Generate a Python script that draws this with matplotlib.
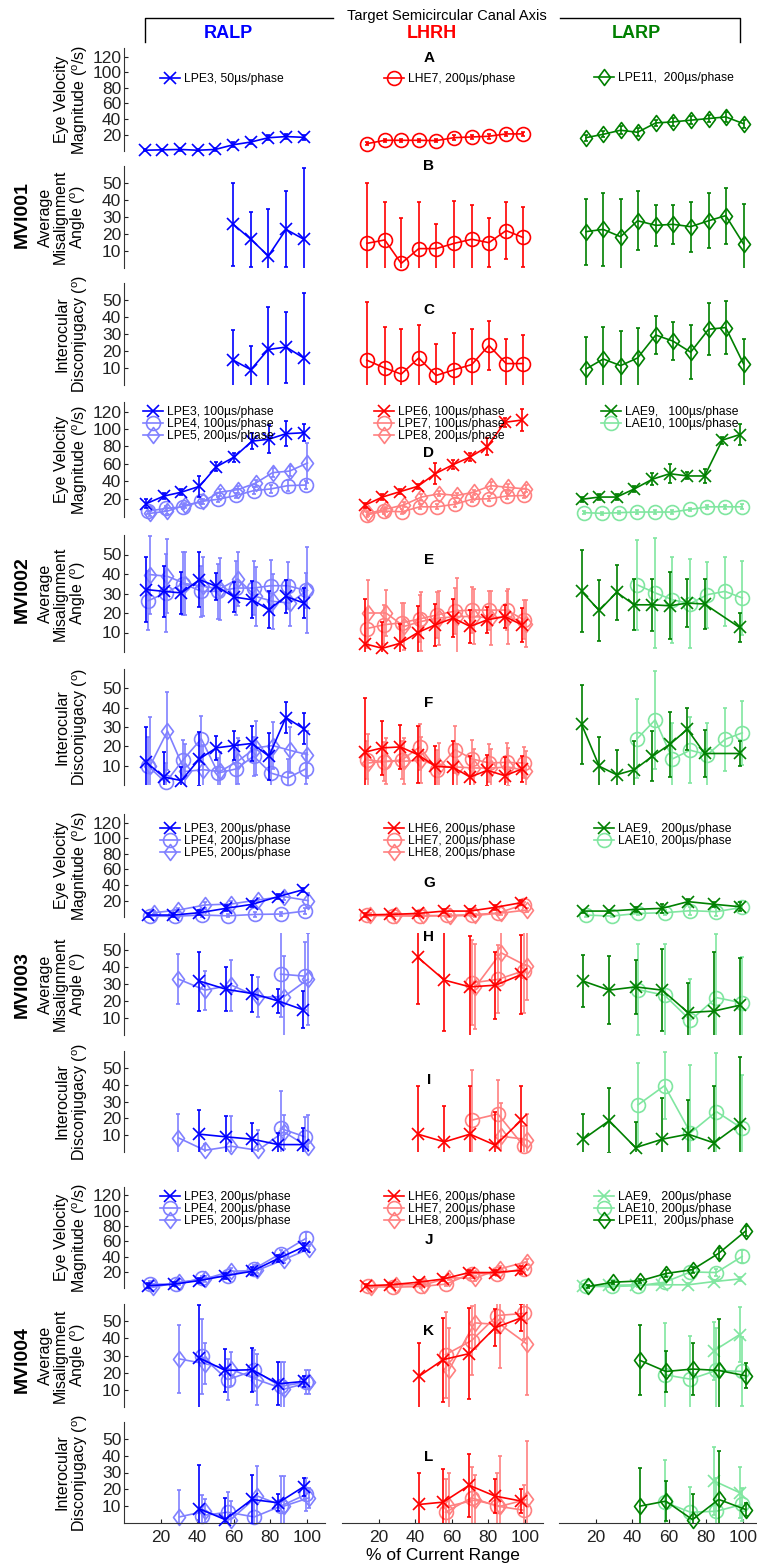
import numpy as np
import matplotlib
matplotlib.use('Agg')
import matplotlib.pyplot as plt
from matplotlib.path import Path
from matplotlib.lines import Line2D

plt.rcParams['font.family'] = ['Liberation Sans', 'DejaVu Sans']
plt.rcParams['mathtext.default'] = 'regular'

N = np.nan

# ---------------- x positions (% of current range) ----------------
x1_ralp = [11.4, 21, 30.4, 40.4, 50, 59.8, 69.4, 79, 88.7, 98.4]
x1_lhrh = [13.6, 23.4, 32.4, 42, 51.5, 61.4, 71, 80.4, 89.8, 99]
x1_larp = [14.7, 24.1, 33.5, 42.8, 52.7, 62.1, 71.7, 81.5, 90.8, 100.5]

x2_ralp_a = [12.3, 21.8, 31.4, 41.3, 50.5, 60.3, 70, 79.3, 88.6, 98.4]
x2_ralp_b = [13.3, 22.8, 32.4, 42.3, 51.5, 61.3, 71, 80.3, 89.6, 99.4]
x2_ralp_c = [14.3, 23.8, 33.4, 43.3, 52.5, 62.3, 72, 81.3, 90.6, 100.4]
x2_lhrh_a = [12.5, 22.1, 31.9, 41.5, 51, 60.9, 70.1, 79.5, 89.1, 98.5]
x2_lhrh_b = [13.5, 23.1, 32.9, 42.5, 52, 61.9, 71.1, 80.5, 90.1, 99.5]
x2_lhrh_c = [14.5, 24.1, 33.9, 43.5, 53, 62.9, 72.1, 81.5, 91.1, 100.5]
x2_larp_a = [12.3, 21.9, 31.4, 41, 50.9, 60.3, 69.9, 79.3, 88.9, 98.3]
x2_larp_b = [13.8, 23.4, 32.9, 42.5, 52.4, 61.8, 71.4, 80.8, 90.4, 99.8]

x3_ralp_a = [13.2, 26.8, 41.3, 55.8, 70.3, 84.4, 97.8]
x3_ralp_b = [14.5, 28.1, 42.6, 57.1, 71.6, 85.7, 99.1]
x3_ralp_c = [16.2, 29.8, 44.3, 58.8, 73.3, 87.4, 100.8]
x3_lhrh_a = [12.5, 26.5, 41.5, 56, 70, 84, 98.2]
x3_lhrh_b = [13.8, 27.8, 42.8, 57.3, 71.3, 85.3, 99.5]
x3_lhrh_c = [15.5, 29.5, 44.5, 59, 73, 87, 101.2]
x3_larp_a = [13.2, 27.3, 41.7, 56.2, 70.3, 84.4, 98.4]
x3_larp_b = [14.5, 28.6, 43, 57.5, 71.6, 85.7, 99.7]

x4_ralp_a = [12.9, 27.3, 41.3, 55.4, 70, 84.4, 98.4]
x4_ralp_b = [14.2, 28.6, 42.6, 56.7, 71.3, 85.7, 99.7]
x4_ralp_c = [15.9, 30.3, 44.3, 58.4, 73, 87.4, 101.4]
x4_lhrh_a = [13, 26.5, 42, 55.4, 69.6, 83.7, 98.2]
x4_lhrh_b = [14.3, 27.8, 43.3, 56.7, 70.9, 85, 99.5]
x4_lhrh_c = [16, 29.5, 45, 58.4, 72.6, 86.7, 101.2]
x4_larp_a = [13.2, 27.3, 41.7, 56.2, 70.3, 84.4, 98.4]
x4_larp_b = [14.5, 28.6, 43, 57.5, 71.6, 85.7, 99.7]
x4_larp_c = [16, 29.5, 44, 58.2, 72.7, 87, 101.6]

# ---------------- MVI001 ----------------
A_LPE3 = [0, 0.5, 1, 0, 1, 7, 10.5, 16, 17.5, 16.5]
A_LPE3_e = [1.5, 1.5, 1.5, 1.5, 2, 3, 3, 3, 3, 3]
A_LHE7 = [8.4, 12.7, 12.7, 12.7, 12.3, 16.1, 17, 17.9, 20.9, 20.9]
A_LHE7_e = [2, 2, 2, 2, 2, 3, 3, 3, 3, 3]
A_LPE11 = [16.1, 20.4, 25.6, 23, 35, 36.3, 38.5, 40.6, 42.7, 34]
A_LPE11_e = [4, 4, 5, 5, 4, 5, 5, 5, 6, 5]

B_LPE3 = [N, N, N, N, N, 25.7, 16.9, 7.1, 22.7, 16.9]
B_LPE3_e = [N, N, N, N, N, 24.5, 16.2, 27.4, 22.4, 42]
B_LHE7 = [14.5, 16.5, 2.7, 11.4, 11.4, 14.5, 16.9, 14.9, 22, 18]
B_LHE7_e = [35.7, 22.1, 26.7, 27.2, 14.5, 24.7, 20, 14.3, 16.6, 17.7]
B_LPE11 = [21.4, 22.7, 18.4, 27.8, 25.1, 25.7, 24.3, 27.8, 30.8, 14.1]
B_LPE11_e = [19.4, 21.6, 22.4, 17.3, 12, 11.4, 14.7, 16.1, 16.5, 23.5]

C_LPE3 = [N, N, N, N, N, 14.6, 9, 20.9, 22.3, 15.9]
C_LPE3_e = [N, N, N, N, N, 17.8, 13.9, 25.1, 20.9, 38.1]
C_LHE7 = [14.6, 10, 6.4, 15.9, 5.6, 9, 12, 23.3, 12.6, 12.6]
C_LHE7_e = [34, 24.2, 26.4, 19.4, 18.3, 21.4, 21.2, 14.2, 14.6, 16.6]
C_LPE11 = [9.4, 15.3, 11.4, 15.9, 29.4, 25.8, 19.3, 32.8, 33.8, 12.4]
C_LPE11_e = [18.8, 18.9, 20.4, 17.9, 11.3, 11.3, 15.8, 15.4, 15.8, 14.4]

# ---------------- MVI002 ----------------
D_LPE3 = [14.4, 23, 27.5, 34.2, 56.6, 67.8, 86, 88.3, 94.6, 95.7]
D_LPE3_e = [5, 3, 3.7, 12, 5, 5.2, 9.4, 16.4, 14.2, 10]
D_LPE4 = [5.8, 8.8, 10.7, 17, 19.3, 23.7, 29.3, 31.2, 35, 35.7]
D_LPE4_e = [3, 3, 3, 3, 3, 3, 4, 5, 6, 5]
D_LPE5 = [3.2, 5.8, 12.5, 17, 27.5, 30.4, 37.9, 49.9, 51.7, 61]
D_LPE5_e = [3, 3, 3, 3, 4, 4, 4, 5, 6, 23.5]
D_LPE6 = [12.5, 21.9, 28.2, 34.2, 48.7, 59.2, 67.8, 79.7, 107.7, 110.3]
D_LPE6_e = [3, 3, 3, 3, 12, 5, 5, 10, 5, 13]
D_LPE7 = [1.3, 5.8, 5, 10.7, 10.7, 13.7, 19.3, 20, 23, 23.7]
D_LPE7_e = [3, 3, 3, 3, 3, 3, 3, 3, 3, 3]
D_LPE8 = [3.2, 8, 13, 21.9, 25.6, 23.7, 27.5, 35, 33, 31.2]
D_LPE8_e = [3, 3, 3, 3, 3, 3, 3, 4, 4, 4]
D_LAE9 = [19.3, 21.9, 21.9, 31.2, 42.4, 48.7, 46.1, 46.1, 87.2, 93.5]
D_LAE9_e = [3, 3, 3, 3, 7, 11, 4, 8, 4, 12]
D_LAE10 = [4, 3.2, 4, 4.7, 4.7, 4.7, 7.7, 10.7, 10.7, 10.7]
D_LAE10_e = [2, 2, 2, 2, 2, 2, 2, 2, 2, 3]

E_LPE3 = [32, 31.1, 30.3, 37.1, 33.7, 28.2, 26.8, 21.7, 28.5, 25.1]
E_LPE3_e = [16.6, 12.9, 10.6, 14.1, 6.9, 7.7, 9.5, 9.4, 8.6, 7.7]
E_LPE4 = [26.3, 30.3, 35.1, 31.1, 31.1, 32.8, 32.8, 34, 34, 31.6]
E_LPE4_e = [15, 20, 16, 13, 14, 14, 14, 13, 12, 9]
E_LPE5 = [39.7, 38.8, 35.1, 33.7, 32.3, 37.5, 28.5, 26, 25.1, 31.6]
E_LPE5_e = [20, 19, 16, 15, 16, 14, 15, 14, 12, 22]
E_LPE6 = [4.2, 1.9, 4.5, 10, 13.9, 17.4, 13.1, 16.5, 18.2, 13.9]
E_LPE6_e = [23, 13.3, 9.8, 13.7, 10.7, 9.9, 8.6, 6.5, 6, 8.6]
E_LPE7 = [12, 14, 15, 17, 19, 21, 21.5, 21.5, 21.5, 16.5]
E_LPE7_e = [10, 10, 10, 12, 12, 12, 12, 10, 10, 10]
E_LPE8 = [20, 20, 13.1, 15.7, 17.4, 18.2, 18.2, 17.4, 18.2, 14.5]
E_LPE8_e = [17, 12, 12, 15, 14, 20, 14, 14, 14, 12]
E_LAE9 = [31.1, 21.3, 30.6, 24.2, 24.2, 23.7, 25.1, 24.6, N, 12.6]
E_LAE9_e = [21, 15.5, 14.2, 13, 13.3, 17.2, 12.4, 12.9, N, 7.4]
E_LAE10 = [N, N, N, 34.5, 30.3, 26.8, 24.8, 29.4, 31.1, 27.7]
E_LAE10_e = [N, N, N, 23, 28, 22, 23, 17, 17.7, 19]

F_LPE3 = [11.7, 4.1, 2.3, 13.5, 19.2, 20.4, 21.5, 14.9, 34.9, 29.1]
F_LPE3_e = [18.3, 12.9, 7, 13.9, 6.1, 7.5, 9, 12.1, 8.1, 7.9]
F_LPE4 = [9.7, 1.3, 13.1, 23.9, 6.2, 8.3, 14.9, 6.2, 3.6, 8.3]
F_LPE4_e = [15, 10, 10, 12, 8, 10, 10, 10, 10, 8]
F_LPE5 = [10, 27.9, 7, 7.9, 7, 12.3, 19.2, 20.4, 18, 15.7]
F_LPE5_e = [25, 20, 14, 13, 10, 12, 14, 12, 12, 12]
F_LPE6 = [17, 19.2, 19.7, 15.7, 9.7, 9.1, 4.1, 7.6, 4.8, 8.3]
F_LPE6_e = [27.8, 13.9, 11.2, 14.8, 10.7, 13.9, 10.8, 8.1, 9.7, 6.6]
F_LPE7 = [13, 12, 13, 19.7, 7.9, 18.3, 13.5, 11.4, 11.7, 11.4]
F_LPE7_e = [10, 10, 10, 12, 10, 12, 10, 10, 10, 8]
F_LPE8 = [11.4, 12.3, 12.3, 12.8, 9.7, 9.3, 8.8, 8.8, 9.3, 7.4]
F_LPE8_e = [15, 12, 12, 12, 12, 12, 10, 10, 10, 10]
F_LAE9 = [31.4, 9.7, 5.3, 7.9, 14.9, 21, 28.8, 16.3, N, 16.3]
F_LAE9_e = [20.3, 15.3, 13, 15.1, 13, 16.8, 10.8, 12, N, 6.4]
F_LAE10 = [N, N, N, 23.9, 33.7, 13.5, 18, 15.7, 23.6, 27]
F_LAE10_e = [N, N, N, 20.5, 25.5, 18.8, 17, 16.6, 16.4, 16.6]

# ---------------- MVI003 ----------------
G_LPE3 = [1.5, 1.5, 4.5, 10.1, 15.3, 25.2, 33.8]
G_LPE3_e = [2, 2, 3, 4, 4, 3, 3]
G_LPE4 = [0, 0, 1.5, 0.5, 2.3, 2.8, 6.6]
G_LPE4_e = [2, 2, 2, 2, 3, 3, 4]
G_LPE5 = [4.5, 7.9, 14.4, 15.7, 20.9, 25.2, 20]
G_LPE5_e = [2, 3, 4, 4, 3, 4, 10]
G_LHE6 = [1.5, 2.3, 3.6, 6.6, 6.6, 11.4, 17.4]
G_LHE6_e = [2, 2, 3, 3, 3, 3, 3]
G_LHE7 = [1, 0.5, 0, 1, 2, 4, 15]
G_LHE7_e = [2, 2, 2, 2, 2, 2, 3]
G_LHE8 = [2, 2, 1, 0.5, 1, 4, 8]
G_LHE8_e = [2, 2, 2, 2, 2, 2, 2]
G_LAE9 = [6.6, 6.6, 8.8, 10.1, 18.7, 15.3, 12.2]
G_LAE9_e = [2, 2, 3, 6, 3, 3, 6]
G_LAE10 = [1.5, 0.2, 3.6, 4.5, 7.1, 5.8, 11.4]
G_LAE10_e = [2, 2, 2, 3, 5, 5, 4]

H_LPE3 = [N, N, 31.7, 26.9, 24.4, 20, 14.9]
H_LPE3_e = [N, N, 17.3, 12.9, 10.8, 7.3, 10.9]
H_LPE4 = [N, N, N, N, N, 35.8, 34.6]
H_LPE4_e = [N, N, N, N, N, 25, 20]
H_LPE5 = [N, 32.9, 26.4, 29.3, 22.4, 22.4, 32.9]
H_LPE5_e = [N, 14.5, 11.5, 15, 12, 24, 27]
H_LHE6 = [N, N, 45.7, 32.3, 28.3, 29.3, 35.6]
H_LHE6_e = [N, N, 27.6, 30, 30, 19.7, 23]
H_LHE7 = [N, N, N, N, 30.7, 32.7, 37.8]
H_LHE7_e = [N, N, N, N, 25, 20, 25]
H_LHE8 = [N, N, N, N, 28.3, 48.4, 40.5]
H_LHE8_e = [N, N, N, N, 25, 18, 20]
H_LAE9 = [31.7, 26.4, 28.3, 26.4, 13.2, 14.1, 17.5]
H_LAE9_e = [15.3, 20.1, 15.8, 24, 17.5, 34.9, 27.6]
H_LAE10 = [N, N, 26.7, 23.4, 8.6, 22, 18.9]
H_LAE10_e = [N, N, 26.8, 30, 24.3, 37.5, 27]

I_LPE3 = [N, N, 10.6, 9, 7.6, 4.4, 4.4]
I_LPE3_e = [N, N, 14.4, 12.4, 9.8, 7, 9.6]
I_LPE4 = [N, N, N, N, N, 14, 9]
I_LPE4_e = [N, N, N, N, N, 22, 12]
I_LPE5 = [N, 8.4, 1, 3.4, 1, 12, 3]
I_LPE5_e = [N, 14, 4, 18, 12, 10, 19]
I_LHE6 = [N, N, 10.6, 6, 10.6, 4, 19]
I_LHE6_e = [N, N, 28.4, 21.6, 28.8, 20, 20.4]
I_LHE7 = [N, N, N, N, 19, 22.6, 3.4]
I_LHE7_e = [N, N, N, N, 30, 20, 12]
I_LHE8 = [N, N, N, N, N, 9.4, 7.4]
I_LHE8_e = [N, N, N, N, N, 20, 15]
I_LAE9 = [7.6, 18.6, 2.6, 7.6, 10.6, 5.4, 16.6]
I_LAE9_e = [15, 19.4, 15.4, 24.4, 20.4, 34, 40]
I_LAE10 = [N, N, 28, 39.4, 11.4, 24, 14]
I_LAE10_e = [N, N, 25, 20, 40, 35, 32]

# ---------------- MVI004 ----------------
J_LPE3 = [1.9, 4, 8.7, 15, 20.8, 37.6, 52.8]
J_LPE3_e = [3, 3, 3, 4, 5, 4, 5]
J_LPE4 = [4, 4, 11.6, 15, 24.2, 44, 64]
J_LPE4_e = [4, 4, 3, 4, 5, 5, 8]
J_LPE5 = [0, 6.6, 10.8, 20.8, 22.1, 36, 50.3]
J_LPE5_e = [4, 4, 4, 4, 4, 4, 4]
J_LHE6 = [1.9, 3.2, 6.6, 10.8, 19.2, 19.2, 22.1]
J_LHE6_e = [2, 2, 3, 3, 3, 3, 5]
J_LHE7 = [1, 0, 1, 4, 17.9, 17.9, 24.2]
J_LHE7_e = [2, 2, 2, 2, 3, 3, 4]
J_LHE8 = [0, 3.2, 3.2, 12.4, 11.6, 24.2, 33.4]
J_LHE8_e = [2, 2, 2, 3, 3, 3, 4]
J_LAE9 = [1.9, 2.4, 3.2, 3.2, 3.2, 7.4, 10.8]
J_LAE9_e = [2, 2, 2, 2, 2, 2, 2]
J_LAE10 = [1, 1, 1.9, 6.6, 20, 19.2, 40.2]
J_LAE10_e = [2, 2, 2, 3, 3, 4, 8]
J_LPE11 = [1, 6.6, 8.2, 17.9, 23, 44.4, 73.4]
J_LPE11_e = [2, 2, 3, 5, 4, 7, 7]

K_LPE3 = [N, N, 28.5, 21.3, 21.7, 13.5, 14.9]
K_LPE3_e = [N, N, 31, 12.5, 12.7, 12.5, 3]
K_LPE4 = [N, N, 29.5, 15.9, 21.3, 12, 14.5]
K_LPE4_e = [N, N, 22, 12, 12, 14, 7]
K_LPE5 = [N, 28, 25.2, 22, 15.9, 10.4, 14.3]
K_LPE5_e = [N, 20, 12, 10, 15, 16, 7]
K_LHE6 = [N, N, 17.8, 27.6, 31.1, 46.1, 52]
K_LHE6_e = [N, N, 19.5, 24.4, 26.7, 10.7, 8]
K_LHE7 = [N, N, N, 30.5, 38.7, 53.3, 54.5]
K_LHE7_e = [N, N, N, 25, 20, 10, 15]
K_LHE8 = [N, N, N, 21.3, 49, 48, 36.7]
K_LHE8_e = [N, N, N, 25, 15, 25, 30]
K_LAE9 = [N, N, N, N, N, 32.8, 42.2]
K_LAE9_e = [N, N, N, N, N, 17, 16]
K_LAE10 = [N, N, N, 18.8, 16.2, 21.3, 20.7]
K_LAE10_e = [N, N, N, 30, 25, 25, 20]
K_LPE11 = [N, N, 27.2, 20.7, 22.1, 21.3, 18.2]
K_LPE11_e = [N, N, 20.5, 12.1, 15.2, 30, 7.4]

L_LPE3 = [N, N, 8.4, 2, 14, 12, 21.6]
L_LPE3_e = [N, N, 26, 13, 14.4, 5, 5.4]
L_LPE4 = [N, N, 4.4, 6.4, 3.6, 10, 17]
L_LPE4_e = [N, N, 12, 12, 12, 18, 10]
L_LPE5 = [N, 3.6, 7, 2, 16, 10, 15]
L_LPE5_e = [N, 16, 7, 11, 18, 18, 6]
L_LHE6 = [N, N, 11, 12.4, 22.4, 16, 13]
L_LHE6_e = [N, N, 19, 19.6, 18.6, 10, 7]
L_LHE7 = [N, N, N, 6.4, 15, 10, 7.6]
L_LHE7_e = [N, N, N, 20, 18, 20, 15]
L_LHE8 = [N, N, N, 10, 13.6, 10, 14]
L_LHE8_e = [N, N, N, 20, 15, 30, 35]
L_LAE9 = [N, N, N, N, N, 25, 18]
L_LAE9_e = [N, N, N, N, N, 20, 15]
L_LAE10 = [N, N, N, 12.4, 6.4, 7, 11]
L_LAE10_e = [N, N, N, 25, 15, 20, 10]
L_LPE11 = [N, N, 10, 13, 2, 14, 8]
L_LPE11_e = [N, N, 22.4, 12, 15, 29, 3.6]

# ---------------- text ----------------
col_titles = ['RALP', 'LHRH', 'LARP']
subjects = ['MVI001', 'MVI002', 'MVI003', 'MVI004']
panel_letters = list('ABCDEFGHIJKL')
vel_ticks = [20, 40, 60, 80, 100, 120]
ang_ticks = [10, 20, 30, 40, 50]
x_ticks = [20, 40, 60, 80, 100]

# ---------------- styles ----------------
BLUE, BLUE_L = '#0000FF', '#8080FF'
RED, RED_L = '#FF0000', '#FF8080'
GRN, GRN_L = '#008000', '#80E6A0'
DIAMOND = Path([(0, 1), (0.75, 0), (0, -1), (-0.75, 0), (0, 1)],
               [Path.MOVETO, Path.LINETO, Path.LINETO, Path.LINETO, Path.CLOSEPOLY])
MK = {'x': ('x', 8), 'o': ('o', 10), 'd': (DIAMOND, 11.5)}

W, H = 757, 1566
fig = plt.figure(figsize=(W / 100, H / 100), dpi=100)

cols_px = [(124, 325), (342, 543), (559, 761)]
rows_px = [(48, 151), (166, 268), (283, 385), (402, 517), (535, 652), (669, 785),
           (814, 917), (933, 1035), (1051, 1152), (1187, 1288), (1304, 1407), (1422, 1523)]
row_kind = ['vel', 'ang', 'dis'] * 4


def make_ax(r, c):
    l, rr = cols_px[c]
    t, b = rows_px[r]
    ax = fig.add_axes([l / W, 1 - b / H, (rr - l) / W, (b - t) / H])
    ax.set_xlim(0, 110)
    if row_kind[r] == 'vel':
        ax.set_ylim(-1, 131)
    else:
        ax.set_ylim(0, 60)
    for s in ax.spines.values():
        s.set_visible(False)
    ax.patch.set_alpha(0)
    if c == 0:
        ax.spines['left'].set_visible(True)
        ax.spines['left'].set_color('#333333')
        ax.set_yticks(vel_ticks if row_kind[r] == 'vel' else ang_ticks)
        ax.tick_params(axis='y', direction='in', length=3, labelsize=12.5, pad=2,
                       colors='#222222')
    else:
        ax.set_yticks([])
    if r == 11:
        ax.spines['bottom'].set_visible(True)
        ax.spines['bottom'].set_color('#333333')
        ax.set_xticks(x_ticks)
        ax.tick_params(axis='x', direction='in', length=3, labelsize=12.5, pad=5,
                       colors='#222222')
    else:
        ax.set_xticks([])
    return ax


def series(ax, x, y, e, color, mk, label=None, z=2):
    x = np.asarray(x, float)
    y = np.asarray(y, float)
    e = np.asarray(e, float)
    m = ~np.isnan(y)
    ax.errorbar(x[m], y[m], yerr=e[m], fmt='none', ecolor=color, elinewidth=1.2,
                capsize=1.5, capthick=1.2, zorder=z)
    marker, ms = MK[mk]
    ln, = ax.plot(x[m], y[m], color=color, lw=1.2, marker=marker, ms=ms,
                  mfc='none', mec=color, mew=1.2, zorder=z + 0.1, clip_on=False,
                  label=label)
    return ln


def legend(ax, handles, x_px, y_px):
    ax.legend(handles=handles, loc='upper left',
              bbox_to_anchor=(x_px / W, 1 - (y_px - 7) / H),
              bbox_transform=fig.transFigure, frameon=False, fontsize=8.7,
              handlelength=1.65, handletextpad=0.3, labelspacing=0.0,
              borderpad=0, borderaxespad=0, numpoints=1)


axes = [[make_ax(r, c) for c in range(3)] for r in range(12)]

# ----- MVI001 -----
h = series(axes[0][0], x1_ralp, A_LPE3, A_LPE3_e, BLUE, 'x', 'LPE3, 50µs/phase')
legend(axes[0][0], [h], 160, 80)
h = series(axes[0][1], x1_lhrh, A_LHE7, A_LHE7_e, RED, 'o', 'LHE7, 200µs/phase')
legend(axes[0][1], [h], 384, 80)
h = series(axes[0][2], x1_larp, A_LPE11, A_LPE11_e, GRN, 'd', 'LPE11,  200µs/phase')
legend(axes[0][2], [h], 594, 79)

series(axes[1][0], x1_ralp, B_LPE3, B_LPE3_e, BLUE, 'x')
series(axes[1][1], x1_lhrh, B_LHE7, B_LHE7_e, RED, 'o')
series(axes[1][2], x1_larp, B_LPE11, B_LPE11_e, GRN, 'd')
series(axes[2][0], x1_ralp, C_LPE3, C_LPE3_e, BLUE, 'x')
series(axes[2][1], x1_lhrh, C_LHE7, C_LHE7_e, RED, 'o')
series(axes[2][2], x1_larp, C_LPE11, C_LPE11_e, GRN, 'd')

# ----- MVI002 -----
r = 3
h1 = series(axes[r][0], x2_ralp_a, D_LPE3, D_LPE3_e, BLUE, 'x', 'LPE3, 100µs/phase', 3)
h2 = series(axes[r][0], x2_ralp_b, D_LPE4, D_LPE4_e, BLUE_L, 'o', 'LPE4, 100µs/phase')
h3 = series(axes[r][0], x2_ralp_c, D_LPE5, D_LPE5_e, BLUE_L, 'd', 'LPE5, 200µs/phase')
legend(axes[r][0], [h1, h2, h3], 143, 413)
h1 = series(axes[r][1], x2_lhrh_a, D_LPE6, D_LPE6_e, RED, 'x', 'LPE6, 100µs/phase', 3)
h2 = series(axes[r][1], x2_lhrh_b, D_LPE7, D_LPE7_e, RED_L, 'o', 'LPE7, 100µs/phase')
h3 = series(axes[r][1], x2_lhrh_c, D_LPE8, D_LPE8_e, RED_L, 'd', 'LPE8, 200µs/phase')
legend(axes[r][1], [h1, h2, h3], 374, 413)
h1 = series(axes[r][2], x2_larp_a, D_LAE9, D_LAE9_e, GRN, 'x', 'LAE9,   100µs/phase', 3)
h2 = series(axes[r][2], x2_larp_b, D_LAE10, D_LAE10_e, GRN_L, 'o', 'LAE10, 100µs/phase')
legend(axes[r][2], [h1, h2], 601, 413)

for r, (b3, b3e, b4, b4e, b5, b5e, r6, r6e, r7, r7e, r8, r8e, g9, g9e, g10, g10e) in (
        (4, (E_LPE3, E_LPE3_e, E_LPE4, E_LPE4_e, E_LPE5, E_LPE5_e, E_LPE6, E_LPE6_e,
             E_LPE7, E_LPE7_e, E_LPE8, E_LPE8_e, E_LAE9, E_LAE9_e, E_LAE10, E_LAE10_e)),
        (5, (F_LPE3, F_LPE3_e, F_LPE4, F_LPE4_e, F_LPE5, F_LPE5_e, F_LPE6, F_LPE6_e,
             F_LPE7, F_LPE7_e, F_LPE8, F_LPE8_e, F_LAE9, F_LAE9_e, F_LAE10, F_LAE10_e))):
    series(axes[r][0], x2_ralp_b, b4, b4e, BLUE_L, 'o')
    series(axes[r][0], x2_ralp_c, b5, b5e, BLUE_L, 'd')
    series(axes[r][0], x2_ralp_a, b3, b3e, BLUE, 'x', z=3)
    series(axes[r][1], x2_lhrh_b, r7, r7e, RED_L, 'o')
    series(axes[r][1], x2_lhrh_c, r8, r8e, RED_L, 'd')
    series(axes[r][1], x2_lhrh_a, r6, r6e, RED, 'x', z=3)
    series(axes[r][2], x2_larp_b, g10, g10e, GRN_L, 'o')
    series(axes[r][2], x2_larp_a, g9, g9e, GRN, 'x', z=3)

# ----- MVI003 -----
r = 6
h1 = series(axes[r][0], x3_ralp_a, G_LPE3, G_LPE3_e, BLUE, 'x', 'LPE3, 200µs/phase', 3)
h2 = series(axes[r][0], x3_ralp_b, G_LPE4, G_LPE4_e, BLUE_L, 'o', 'LPE4, 200µs/phase')
h3 = series(axes[r][0], x3_ralp_c, G_LPE5, G_LPE5_e, BLUE_L, 'd', 'LPE5, 200µs/phase')
legend(axes[r][0], [h1, h2, h3], 160, 830)
h1 = series(axes[r][1], x3_lhrh_a, G_LHE6, G_LHE6_e, RED, 'x', 'LHE6, 200µs/phase', 3)
h2 = series(axes[r][1], x3_lhrh_b, G_LHE7, G_LHE7_e, RED_L, 'o', 'LHE7, 200µs/phase')
h3 = series(axes[r][1], x3_lhrh_c, G_LHE8, G_LHE8_e, RED_L, 'd', 'LHE8, 200µs/phase')
legend(axes[r][1], [h1, h2, h3], 384, 830)
h1 = series(axes[r][2], x3_larp_a, G_LAE9, G_LAE9_e, GRN, 'x', 'LAE9,   200µs/phase', 3)
h2 = series(axes[r][2], x3_larp_b, G_LAE10, G_LAE10_e, GRN_L, 'o', 'LAE10, 200µs/phase')
legend(axes[r][2], [h1, h2], 594, 830)

for r, (b3, b3e, b4, b4e, b5, b5e, r6, r6e, r7, r7e, r8, r8e, g9, g9e, g10, g10e) in (
        (7, (H_LPE3, H_LPE3_e, H_LPE4, H_LPE4_e, H_LPE5, H_LPE5_e, H_LHE6, H_LHE6_e,
             H_LHE7, H_LHE7_e, H_LHE8, H_LHE8_e, H_LAE9, H_LAE9_e, H_LAE10, H_LAE10_e)),
        (8, (I_LPE3, I_LPE3_e, I_LPE4, I_LPE4_e, I_LPE5, I_LPE5_e, I_LHE6, I_LHE6_e,
             I_LHE7, I_LHE7_e, I_LHE8, I_LHE8_e, I_LAE9, I_LAE9_e, I_LAE10, I_LAE10_e))):
    series(axes[r][0], x3_ralp_b, b4, b4e, BLUE_L, 'o')
    series(axes[r][0], x3_ralp_c, b5, b5e, BLUE_L, 'd')
    series(axes[r][0], x3_ralp_a, b3, b3e, BLUE, 'x', z=3)
    series(axes[r][1], x3_lhrh_b, r7, r7e, RED_L, 'o')
    series(axes[r][1], x3_lhrh_c, r8, r8e, RED_L, 'd')
    series(axes[r][1], x3_lhrh_a, r6, r6e, RED, 'x', z=3)
    series(axes[r][2], x3_larp_b, g10, g10e, GRN_L, 'o')
    series(axes[r][2], x3_larp_a, g9, g9e, GRN, 'x', z=3)

# ----- MVI004 -----
r = 9
h1 = series(axes[r][0], x4_ralp_a, J_LPE3, J_LPE3_e, BLUE, 'x', 'LPE3, 200µs/phase', 3)
h2 = series(axes[r][0], x4_ralp_b, J_LPE4, J_LPE4_e, BLUE_L, 'o', 'LPE4, 200µs/phase')
h3 = series(axes[r][0], x4_ralp_c, J_LPE5, J_LPE5_e, BLUE_L, 'd', 'LPE5, 200µs/phase')
legend(axes[r][0], [h1, h2, h3], 160, 1198)
h1 = series(axes[r][1], x4_lhrh_a, J_LHE6, J_LHE6_e, RED, 'x', 'LHE6, 200µs/phase', 3)
h2 = series(axes[r][1], x4_lhrh_b, J_LHE7, J_LHE7_e, RED_L, 'o', 'LHE7, 200µs/phase')
h3 = series(axes[r][1], x4_lhrh_c, J_LHE8, J_LHE8_e, RED_L, 'd', 'LHE8, 200µs/phase')
legend(axes[r][1], [h1, h2, h3], 384, 1198)
h1 = series(axes[r][2], x4_larp_a, J_LAE9, J_LAE9_e, GRN_L, 'x', 'LAE9,   200µs/phase')
h2 = series(axes[r][2], x4_larp_b, J_LAE10, J_LAE10_e, GRN_L, 'o', 'LAE10, 200µs/phase')
h3 = series(axes[r][2], x4_larp_c, J_LPE11, J_LPE11_e, GRN, 'd', 'LPE11,  200µs/phase', 3)
legend(axes[r][2], [h1, h2, h3], 594, 1198)

for r, (b3, b3e, b4, b4e, b5, b5e, r6, r6e, r7, r7e, r8, r8e, g9, g9e, g10, g10e, g11, g11e) in (
        (10, (K_LPE3, K_LPE3_e, K_LPE4, K_LPE4_e, K_LPE5, K_LPE5_e, K_LHE6, K_LHE6_e,
              K_LHE7, K_LHE7_e, K_LHE8, K_LHE8_e, K_LAE9, K_LAE9_e, K_LAE10, K_LAE10_e,
              K_LPE11, K_LPE11_e)),
        (11, (L_LPE3, L_LPE3_e, L_LPE4, L_LPE4_e, L_LPE5, L_LPE5_e, L_LHE6, L_LHE6_e,
              L_LHE7, L_LHE7_e, L_LHE8, L_LHE8_e, L_LAE9, L_LAE9_e, L_LAE10, L_LAE10_e,
              L_LPE11, L_LPE11_e))):
    series(axes[r][0], x4_ralp_b, b4, b4e, BLUE_L, 'o')
    series(axes[r][0], x4_ralp_c, b5, b5e, BLUE_L, 'd')
    series(axes[r][0], x4_ralp_a, b3, b3e, BLUE, 'x', z=3)
    series(axes[r][1], x4_lhrh_b, r7, r7e, RED_L, 'o')
    series(axes[r][1], x4_lhrh_c, r8, r8e, RED_L, 'd')
    series(axes[r][1], x4_lhrh_a, r6, r6e, RED, 'x', z=3)
    series(axes[r][2], x4_larp_a, g9, g9e, GRN_L, 'x')
    series(axes[r][2], x4_larp_b, g10, g10e, GRN_L, 'o')
    series(axes[r][2], x4_larp_c, g11, g11e, GRN, 'd', z=3)

axes[11][1].set_xlabel('% of Current Range', fontsize=12.5, labelpad=2)


# ---------------- annotations ----------------
def ftext(x, y, s, **kw):
    fig.text(x / W, 1 - y / H, s, **kw)


def fline(xs, ys):
    fig.add_artist(Line2D([v / W for v in xs], [1 - v / H for v in ys],
                          color='black', lw=1.0))


fline([145, 145, 333], [42, 18, 18])
fline([560, 740, 740], [18, 18, 42])
ftext(447, 16, 'Target Semicircular Canal Axis', ha='center', va='center', fontsize=10.5)
for name, xc, colr in zip(col_titles, [228, 432, 636], [BLUE, RED, GRN]):
    ftext(xc, 34, name, ha='center', va='center', fontsize=13, fontweight='bold', color=colr)

letter_y = [58, 166, 310, 453, 560, 703, 883, 937, 1080, 1240, 1331, 1457]
for s, yy in zip(panel_letters, letter_y):
    ftext(429, yy, s, ha='center', va='center', fontsize=11, fontweight='bold')

subj_y = [215, 590, 985, 1360]
for s, yy in zip(subjects, subj_y):
    ftext(22, yy, s, ha='center', va='center', rotation=90, fontsize=14, fontweight='bold')

labels = {'vel': ('Eye Velocity\nMagnitude ($^o$/s)', 72),
          'ang': ('Average\nMisalignment\nAngle ($^o$)', 63),
          'dis': ('Interocular\nDisconjugacy ($^o$)', 72)}
for r, kind in enumerate(row_kind):
    s, xc = labels[kind]
    yc = (rows_px[r][0] + rows_px[r][1]) / 2
    ftext(xc, yc, s, ha='center', va='center', rotation=90, fontsize=11.5,
          linespacing=1.05, multialignment='center')

fig.savefig('out.png', dpi=100)
